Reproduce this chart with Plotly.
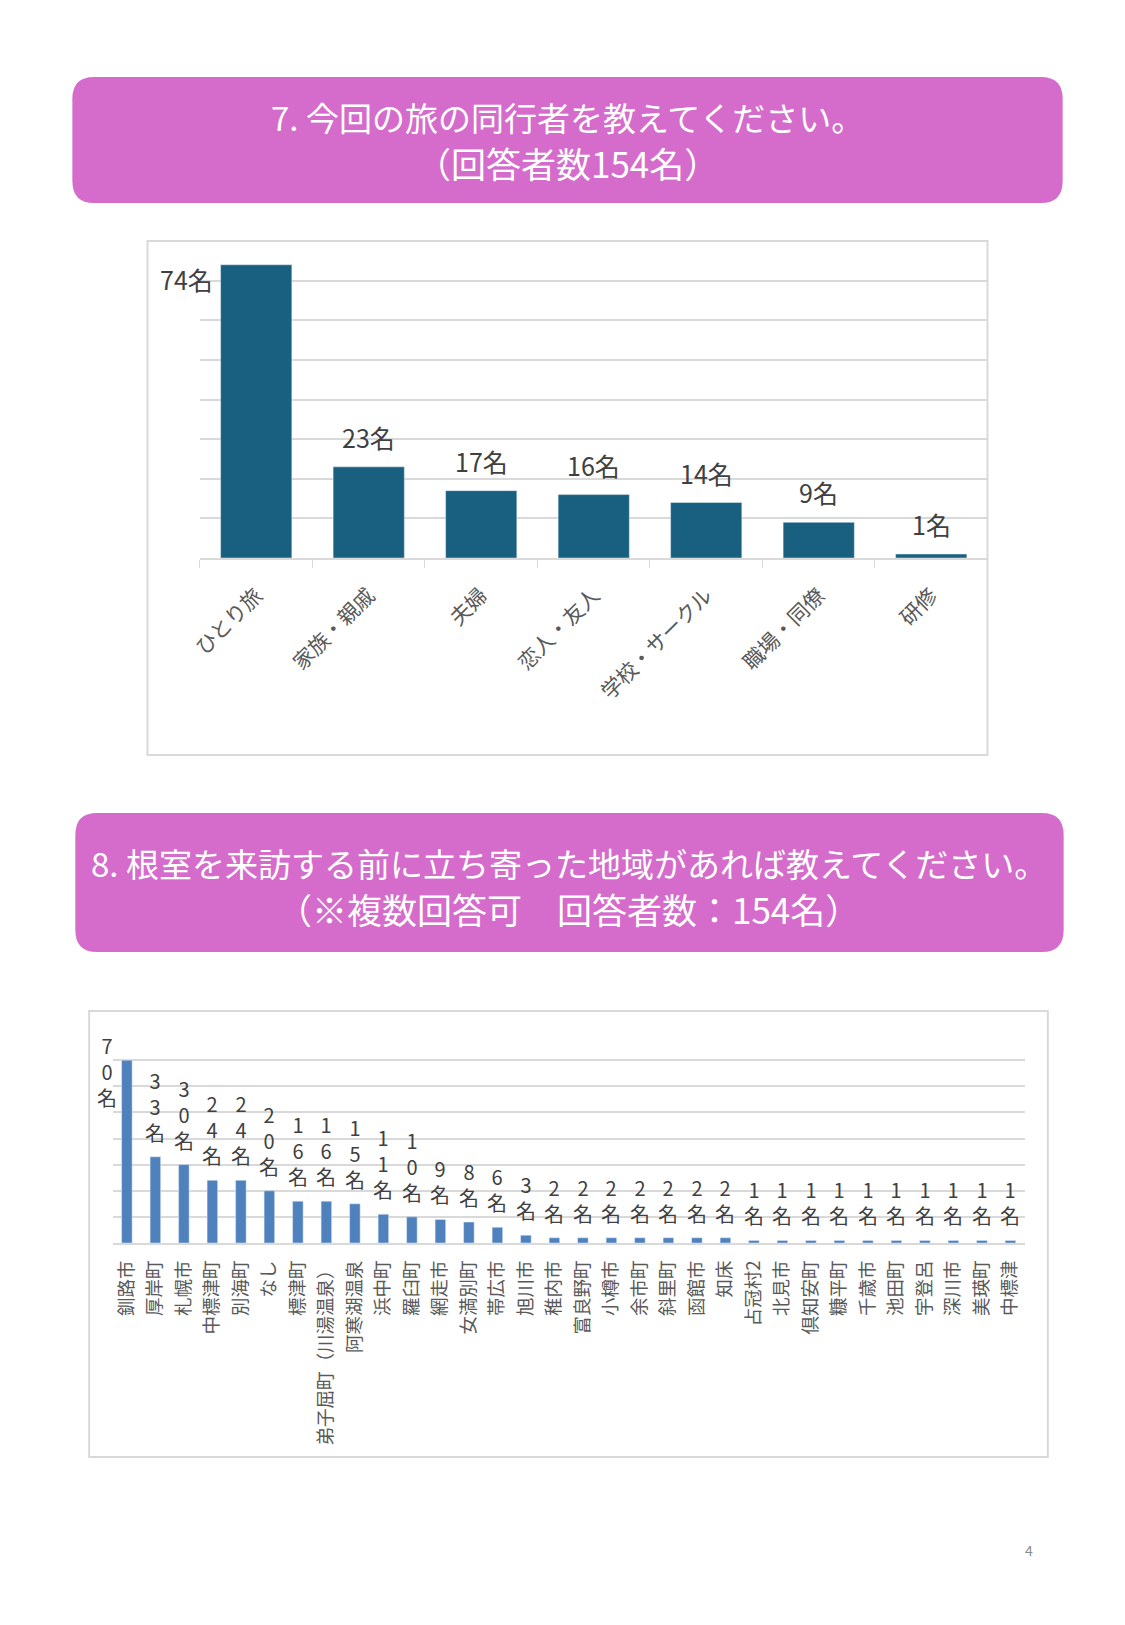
import plotly.graph_objects as go

W, H = 1125, 1625
FONT = "Noto Sans CJK JP"

# Q7 data
q7_labels = ["ひとり旅", "家族・親戚", "夫婦", "恋人・友人", "学校・サークル", "職場・同僚", "研修"]
q7_values = [74, 23, 17, 16, 14, 9, 1]

# Q8 data
q8_labels = ["釧路市", "厚岸町", "札幌市", "中標津町", "別海町", "なし", "標津町",
             "弟子屈町（川湯温泉）", "阿寒湖温泉", "浜中町", "羅臼町", "網走市", "女満別町",
             "帯広市", "旭川市", "稚内市", "富良野町", "小樽市", "余市町", "斜里町", "函館市",
             "知床", "占冠村2", "北見市", "倶知安町", "糠平町", "千歳市", "池田町", "宇登呂",
             "深川市", "美瑛町", "中標津"]
q8_values = [70, 33, 30, 24, 24, 20, 16, 16, 15, 11, 10, 9, 8, 6, 3,
             2, 2, 2, 2, 2, 2, 2, 1, 1, 1, 1, 1, 1, 1, 1, 1, 1]


def px(x):
    return x / W


def py(y):
    return 1 - y / H


def rounded_box(x0, y0, x1, y1, r):
    L, R, T, B = px(x0), px(x1), py(y0), py(y1)
    rx, ry = r / W, r / H
    return (f"M {L+rx},{T} L {R-rx},{T} Q {R},{T} {R},{T-ry} L {R},{B+ry} "
            f"Q {R},{B} {R-rx},{B} L {L+rx},{B} Q {L},{B} {L},{B+ry} "
            f"L {L},{T-ry} Q {L},{T} {L+rx},{T} Z")


fig = go.Figure()

fig.add_trace(go.Bar(x=q7_labels, y=q7_values, marker_color="#185f80",
                     xaxis="x", yaxis="y", hoverinfo="skip"))
fig.add_trace(go.Bar(x=q8_labels, y=q8_values, marker_color="#4f81bd",
                     xaxis="x2", yaxis="y2", width=0.37, hoverinfo="skip"))

annotations = []
# value labels, chart 1
lab_font1 = dict(family=FONT, size=25, color="#404040")
for i, (lab, v) in enumerate(zip(q7_labels, q7_values)):
    if i == 0:
        annotations.append(dict(x=lab, y=v, xref="x", yref="y", text=f"{v}名",
                                showarrow=False, xanchor="right", yanchor="middle",
                                xshift=-41, yshift=-14, font=lab_font1))
    else:
        annotations.append(dict(x=lab, y=v, xref="x", yref="y", text=f"{v}名",
                                showarrow=False, xanchor="center", yanchor="bottom",
                                yshift=10, font=lab_font1))

# value labels, chart 2 (one character per line)
lab_font2 = dict(family=FONT, size=20, color="#404040")
for i, (lab, v) in enumerate(zip(q8_labels, q8_values)):
    txt = "<br>".join(list(f"{v}名"))
    if i == 0:
        annotations.append(dict(x=lab, y=v, xref="x2", yref="y2", text=txt,
                                showarrow=False, xanchor="right", yanchor="middle",
                                xshift=-8, yshift=-11, font=lab_font2))
    else:
        annotations.append(dict(x=lab, y=v, xref="x2", yref="y2", text=txt,
                                showarrow=False, xanchor="center", yanchor="bottom",
                                yshift=8, font=lab_font2))

# headers
hdr_font = dict(family=FONT, size=33, color="white")
hdr_font2 = dict(family=FONT, size=35, color="white")
hdr = dict(xref="paper", yref="paper", showarrow=False, xanchor="center", yanchor="middle")
annotations += [
    dict(x=px(561), y=py(117), text="7. 今回の旅の同行者を教えてください。", font=hdr_font, **hdr),
    dict(x=px(561), y=py(162), text="（回答者数154名）", font=hdr_font2, **hdr),
    dict(x=px(563), y=py(863), text="8. 根室を来訪する前に立ち寄った地域があれば教えてください。",
         font=hdr_font, **hdr),
    dict(x=px(563), y=py(908), text="（※複数回答可　回答者数：154名）", font=hdr_font2, **hdr),
    dict(x=px(1028), y=py(1550), text="4", font=dict(family=FONT, size=14, color="#8c8c8c"), **hdr),
]

shapes = [
    dict(type="path", path=rounded_box(61, 77, 1062, 203, 22), xref="paper", yref="paper",
         fillcolor="#d56ccb", line=dict(width=0), layer="below"),
    dict(type="path", path=rounded_box(64, 813, 1063, 952, 22), xref="paper", yref="paper",
         fillcolor="#d56ccb", line=dict(width=0), layer="below"),
    dict(type="rect", x0=px(137), x1=px(986), y0=py(755), y1=py(241), xref="paper", yref="paper",
         line=dict(color="#d9d9d9", width=2), layer="below"),
    dict(type="rect", x0=px(78), x1=px(1047), y0=py(1457), y1=py(1011), xref="paper", yref="paper",
         line=dict(color="#d9d9d9", width=2), layer="below"),
]

fig.update_layout(
    width=W, height=H,
    margin=dict(l=0, r=0, t=0, b=0),
    paper_bgcolor="white", plot_bgcolor="white",
    showlegend=False,
    font=dict(family=FONT, color="#595959"),
    bargap=0.367,
    annotations=annotations,
    shapes=shapes,
    xaxis=dict(domain=[px(190), px(986)], anchor="y", range=[-0.5, len(q7_labels) - 0.5],
               tickangle=-45, tickfont=dict(family=FONT, size=21, color="#595959"),
               showline=True, linecolor="#d9d9d9", linewidth=2,
               ticks="outside", tickson="boundaries", ticklen=8, tickcolor="#d9d9d9",
               ticklabelstandoff=15, fixedrange=True),
    yaxis=dict(domain=[py(558), py(241)], anchor="x", range=[0, 80], dtick=10,
               showticklabels=False, showgrid=True, gridcolor="#d9d9d9", gridwidth=2,
               zeroline=False, fixedrange=True),
    xaxis2=dict(domain=[px(101.7), px(1023.6)], anchor="y2", range=[-0.5, len(q8_labels) - 0.5],
                tickangle=-90, tickfont=dict(family=FONT, size=18.5, color="#595959"),
                showline=True, linecolor="#d9d9d9", linewidth=2,
                ticklabelstandoff=8, fixedrange=True),
    yaxis2=dict(domain=[py(1243), py(1034)], anchor="x2", range=[0, 80], dtick=10,
                showticklabels=False, showgrid=True, gridcolor="#d9d9d9", gridwidth=2,
                zeroline=False, fixedrange=True),
)

# drop the default page margin so the figure sits at the window's top-left corner
fig.write_html("out.html", post_script="document.body.style.margin='0';",
               config={"displayModeBar": False})
